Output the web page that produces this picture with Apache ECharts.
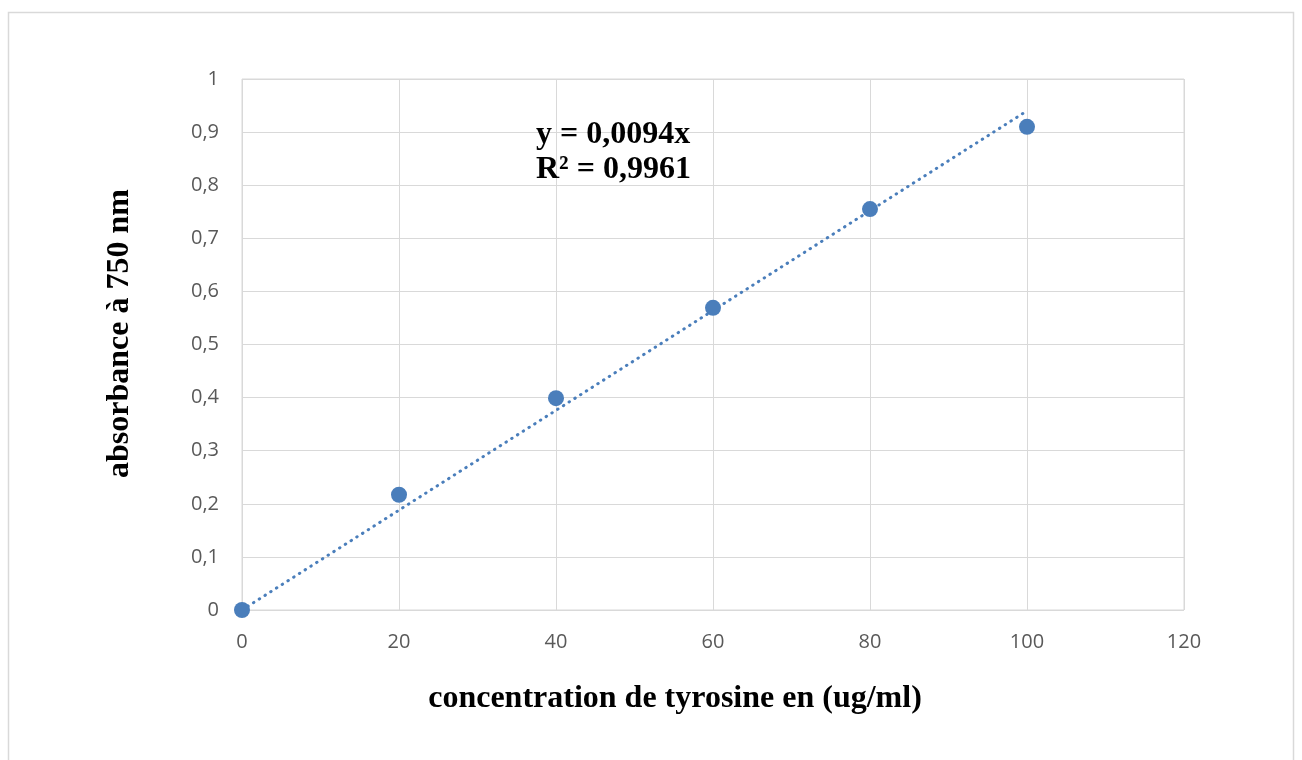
<!DOCTYPE html>
<html>
<head>
<meta charset="utf-8">
<script src="https://cdn.jsdelivr.net/npm/echarts@6/dist/echarts.min.js"></script>
<style>
html,body{margin:0;padding:0;background:#fff;}
#chart{width:1302px;height:760px;}
</style>
</head>
<body>
<div id="chart"></div>
<script>
// Data
const concentrations = [0, 20, 40, 60, 80, 100];
const absorbances = [0, 0.217, 0.399, 0.569, 0.755, 0.91];
const trendX = [0, 100];
const trendY = [0, 0.94];
const equationLines = ['y = 0,0094x', 'R² = 0,9961'];
const xTitle = 'concentration de tyrosine en (ug/ml)';
const yTitle = 'absorbance à 750 nm';

const points = concentrations.map((c, i) => [c, absorbances[i]]);
const trend = trendX.map((x, i) => [x, trendY[i]]);

const chart = echarts.init(document.getElementById('chart'));
const blue = '#4a7ebb';
chart.setOption({
  animation: false,
  backgroundColor: '#fff',
  graphic: [{
    type: 'rect',
    shape: {x: 8.5, y: 12.5, width: 1285, height: 760},
    style: {fill: 'none', stroke: '#d9d9d9', lineWidth: 1.5},
    silent: true
  }, {
    type: 'text', left: 536, top: 117,
    style: {text: equationLines.join('\n'), font: 'bold 32px "Liberation Serif"', fill: '#000', lineHeight: 35},
    z: 10
  }],
  grid: {left: 242, right: 118, top: 79, bottom: 150, show: true, borderColor: '#d9d9d9', borderWidth: 1},
  xAxis: {
    type: 'value', min: 0, max: 120, interval: 20,
    name: xTitle, nameLocation: 'middle', nameGap: 73,
    nameTextStyle: {fontFamily: 'Liberation Serif', fontWeight: 'bold', fontSize: 32, color: '#000', padding: [0, 76, 0, 0]},
    axisLine: {show: false}, axisTick: {show: false},
    splitLine: {show: true, lineStyle: {color: '#d9d9d9', width: 1}},
    axisLabel: {color: '#595959', fontFamily: 'Open Sans', fontSize: 20, margin: 22}
  },
  yAxis: {
    type: 'value', min: 0, max: 1, interval: 0.1,
    name: yTitle, nameLocation: 'middle', nameGap: 106,
    nameTextStyle: {fontFamily: 'Liberation Serif', fontWeight: 'bold', fontSize: 32, color: '#000', padding: [0, 0, 0, 22]},
    axisLine: {show: false}, axisTick: {show: false},
    splitLine: {show: true, lineStyle: {color: '#d9d9d9', width: 1}},
    axisLabel: {color: '#595959', fontFamily: 'Open Sans', fontSize: 20, margin: 23,
      formatter: v => String(Math.round(v * 10) / 10).replace('.', ',')}
  },
  series: [
    {
      type: 'line', data: trend, showSymbol: false, symbol: 'none',
      lineStyle: {color: blue, width: 3, type: [0.5, 6.3], cap: 'round', opacity: 1},
      silent: true, z: 2
    },
    {
      type: 'scatter', data: points, symbol: 'circle', symbolSize: 16,
      itemStyle: {color: blue, opacity: 1}, z: 3
    }
  ]
});
</script>
</body>
</html>
